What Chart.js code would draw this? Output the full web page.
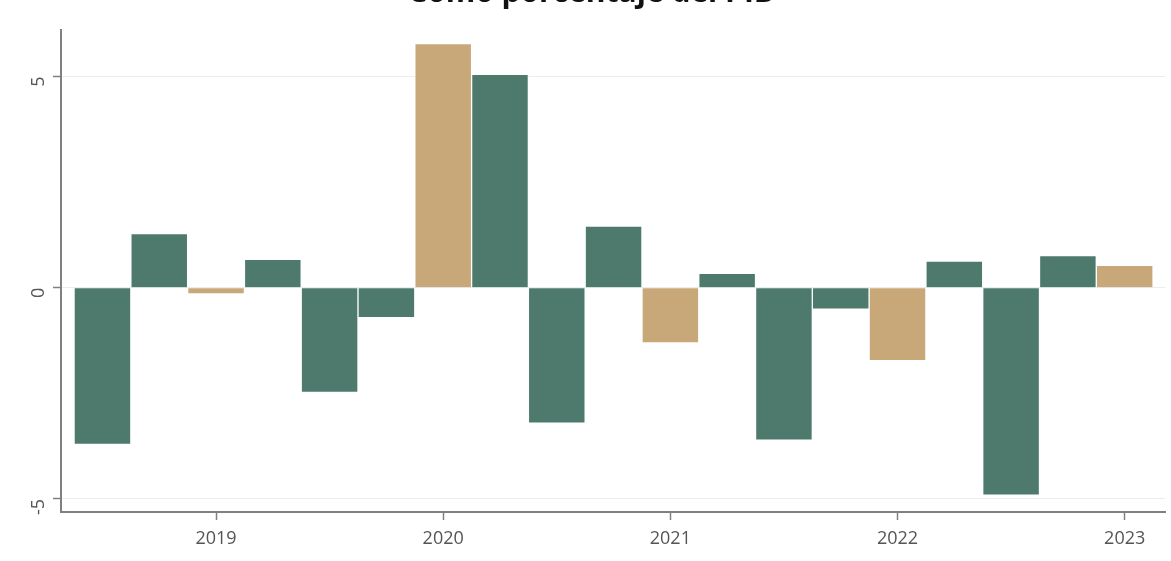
<!DOCTYPE html>
<html>
<head>
<meta charset="utf-8">
<script src="https://cdn.jsdelivr.net/npm/chart.js@4/dist/chart.umd.min.js"></script>
<style>
  html, body { margin: 0; padding: 0; background: #ffffff; }
  #wrap { position: absolute; left: 0; top: 0; width: 1171px; height: 561px; }
</style>
</head>
<body>
<div id="wrap"><canvas id="c" width="1171" height="561"></canvas></div>
<script>
// ---- data ----
const titleText = "Como porcentaje del PIB";
const categories = ["2018T3","2018T4","2019T1","2019T2","2019T3","2019T4","2020T1","2020T2","2020T3","2020T4",
                    "2021T1","2021T2","2021T3","2021T4","2022T1","2022T2","2022T3","2022T4","2023T1"];
const values = [-3.71, 1.28, -0.15, 0.67, -2.48, -0.71, 5.78, 5.05, -3.21, 1.46,
                -1.31, 0.34, -3.61, -0.51, -1.73, 0.63, -4.91, 0.76, 0.53];
const yearLabels = ["2019", "2020", "2021", "2022", "2023"];
const yTickValues = [-5, 0, 5];

// ---- styling ----
const GREEN = "#4e7a6e";
const TAN = "#c8a878";

const points = values.map((v, i) => ({ x: i, y: v }));
const colors = categories.map(c => c.endsWith("T1") ? TAN : GREEN);
const yearTickPositions = yearLabels.map(y => categories.indexOf(y + "T1"));

const bgPlugin = {
  id: "bg",
  beforeDraw(chart) {
    const ctx = chart.ctx;
    ctx.save();
    ctx.fillStyle = "#ffffff";
    ctx.fillRect(0, 0, chart.width, chart.height);
    ctx.restore();
  }
};
const titlePlugin = {
  id: "cutTitle",
  afterDraw(chart) {
    const ctx = chart.ctx;
    ctx.save();
    ctx.font = "bold 30px 'Open Sans'";
    ctx.fillStyle = "#111111";
    ctx.textAlign = "center";
    ctx.textBaseline = "alphabetic";
    ctx.fillText(titleText, 591, 2);
    ctx.restore();
  }
};

new Chart(document.getElementById("c"), {
  type: "bar",
  data: {
    datasets: [{
      data: points,
      backgroundColor: colors,
      borderColor: "rgba(255,255,255,0.9)",
      borderWidth: 1,
      barPercentage: 1,
      categoryPercentage: 1
    }]
  },
  options: {
    responsive: false,
    animation: false,
    devicePixelRatio: 1,
    layout: { padding: { top: 30, right: 6, left: 0, bottom: 0 } },
    plugins: { legend: { display: false }, tooltip: { enabled: false }, title: { display: false } },
    scales: {
      x: {
        type: "linear",
        offset: false,
        min: -0.73,
        max: 18.71,
        afterBuildTicks(scale) { scale.ticks = yearTickPositions.map(v => ({ value: v })); },
        afterFit(scale) { scale.height = 49; },
        grid: { offset: false, drawOnChartArea: false, drawTicks: true, tickLength: 8, tickColor: "#808080", tickWidth: 1.5 },
        border: { display: true, color: "#808080", width: 2 },
        ticks: {
          autoSkip: false,
          maxRotation: 0,
          padding: 8,
          color: "#555555",
          font: { family: "'Open Sans'", size: 18 },
          callback(value) {
            const idx = yearTickPositions.indexOf(value);
            return idx >= 0 ? yearLabels[idx] : "";
          }
        }
      },
      y: {
        min: -5.31,
        max: 6.1,
        afterBuildTicks(scale) { scale.ticks = yTickValues.map(v => ({ value: v })); },
        afterFit(scale) { scale.width = 61; },
        grid: { color: "#e6efed", lineWidth: 1, drawTicks: true, tickLength: 8, tickColor: "#808080", tickWidth: 1.5 },
        border: { display: true, color: "#808080", width: 2 },
        ticks: {
          minRotation: 90,
          maxRotation: 90,
          padding: 14,
          color: "#555555",
          font: { family: "'Open Sans'", size: 18 },
          callback(value) { return String(value); }
        }
      }
    }
  },
  plugins: [bgPlugin, titlePlugin]
});
</script>
</body>
</html>
